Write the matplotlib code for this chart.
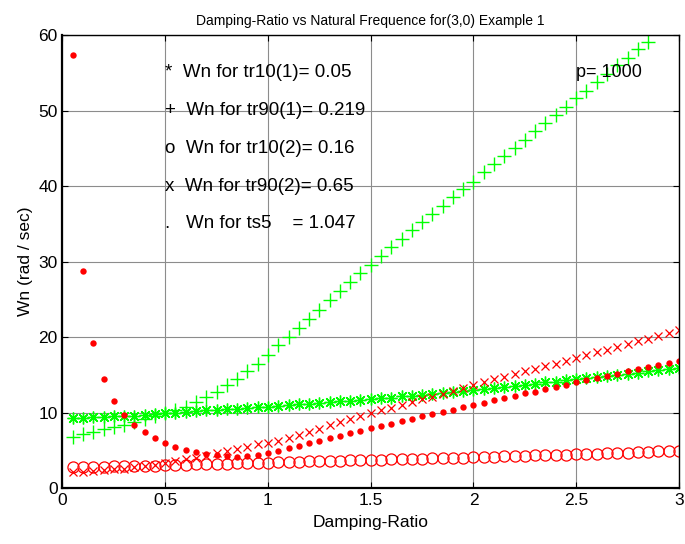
import numpy as np
import matplotlib
matplotlib.use('Agg')
import matplotlib.pyplot as plt

plt.rcParams['font.family'] = ['Liberation Sans', 'DejaVu Sans']

# damping ratio 0.05 .. 3 (step 0.05)
zeta = np.round(np.arange(1, 61) * 0.05, 2)

# '*'  Wn for tr10(1)
wn_tr10_1 = [9.3, 9.35, 9.4, 9.45, 9.5, 9.55, 9.6, 9.7, 9.8, 9.9,
             10.0, 10.1, 10.2, 10.3, 10.4, 10.45, 10.55, 10.6, 10.7, 10.8,
             10.9, 11.0, 11.1, 11.2, 11.3, 11.4, 11.5, 11.6, 11.7, 11.8,
             11.9, 12.0, 12.15, 12.25, 12.4, 12.5, 12.6, 12.75, 12.9, 13.0,
             13.15, 13.3, 13.4, 13.55, 13.7, 13.8, 14.0, 14.1, 14.3, 14.45,
             14.6, 14.7, 14.85, 15.0, 15.15, 15.3, 15.45, 15.6, 15.75, 15.9]

# '+'  Wn for tr90(1)  (leaves the plot after 2.85)
wn_tr90_1 = [6.8, 7.2, 7.5, 7.8, 8.1, 8.4, 8.7, 9.1, 9.5, 9.9,
             10.3, 10.8, 11.4, 12.1, 12.8, 13.6, 14.4, 15.5, 16.5, 17.7,
             18.9, 20.0, 21.2, 22.4, 23.6, 24.9, 26.1, 27.3, 28.5, 29.6,
             30.8, 31.9, 33.0, 34.2, 35.3, 36.3, 37.3, 38.5, 39.6, 40.6,
             41.9, 42.9, 44.0, 45.0, 46.1, 47.3, 48.3, 49.4, 50.5, 51.6,
             52.6, 53.8, 54.9, 56.0, 57.0, 58.1, 59.1]

# 'o'  Wn for tr10(2)
wn_tr10_2 = [2.80, 2.82, 2.84, 2.86, 2.88, 2.90, 2.93, 2.96, 3.00, 3.04,
             3.08, 3.11, 3.15, 3.18, 3.22, 3.25, 3.29, 3.32, 3.36, 3.40,
             3.43, 3.47, 3.50, 3.54, 3.57, 3.61, 3.64, 3.68, 3.71, 3.75,
             3.78, 3.82, 3.85, 3.89, 3.92, 3.96, 3.99, 4.03, 4.06, 4.10,
             4.14, 4.18, 4.22, 4.26, 4.30, 4.34, 4.38, 4.42, 4.46, 4.50,
             4.54, 4.59, 4.63, 4.68, 4.72, 4.77, 4.81, 4.86, 4.90, 4.95]

# 'x'  Wn for tr90(2)
wn_tr90_2 = [2.1, 2.2, 2.3, 2.4, 2.5, 2.6, 2.75, 2.9, 3.1, 3.3,
             3.55, 3.8, 4.05, 4.3, 4.6, 4.9, 5.25, 5.5, 5.8, 6.0,
             6.3, 6.7, 7.1, 7.5, 7.9, 8.3, 8.7, 9.1, 9.5, 9.9,
             10.3, 10.6, 11.0, 11.4, 11.8, 12.1, 12.5, 12.9, 13.2, 13.6,
             14.0, 14.4, 14.7, 15.1, 15.5, 15.8, 16.2, 16.5, 16.9, 17.2,
             17.6, 18.0, 18.3, 18.7, 19.1, 19.5, 19.8, 20.2, 20.5, 20.9]

# '.'  Wn for ts5
wn_ts5 = [57.3, 28.7, 19.2, 14.4, 11.6, 9.7, 8.4, 7.4, 6.6, 6.0,
          5.5, 5.1, 4.8, 4.55, 4.4, 4.25, 4.15, 4.2, 4.35, 4.6,
          4.95, 5.3, 5.6, 5.95, 6.3, 6.65, 6.95, 7.3, 7.6, 7.95,
          8.25, 8.55, 8.85, 9.2, 9.5, 9.8, 10.1, 10.4, 10.7, 11.0,
          11.3, 11.65, 11.95, 12.25, 12.55, 12.8, 13.1, 13.4, 13.7, 14.0,
          14.3, 14.55, 14.85, 15.15, 15.45, 15.75, 16.05, 16.3, 16.6, 16.9]

labels = ['*  Wn for tr10(1)= 0.05',
          '+  Wn for tr90(1)= 0.219',
          'o  Wn for tr10(2)= 0.16',
          'x  Wn for tr90(2)= 0.65',
          '.   Wn for ts5    = 1.047']
label_y = [55, 50, 45, 40, 35]

green = '#00ff00'
red = '#ff0000'

fig = plt.figure(figsize=(6.85, 5.44), dpi=100)
ax = fig.add_axes([0.0912, 0.1026, 0.9, 0.833])

ax.plot(zeta, wn_tr10_1, linestyle='none', marker=(8, 2, 0), ms=8.5,
        mec=green, mew=1.0)
ax.plot(zeta[:len(wn_tr90_1)], wn_tr90_1, linestyle='none', marker='+',
        ms=9.5, mec=green, mew=1.0)
ax.plot(zeta, wn_tr10_2, linestyle='none', marker='o', ms=8,
        mfc='none', mec=red, mew=0.9)
ax.plot(zeta, wn_tr90_2, linestyle='none', marker='x', ms=5.5,
        mec=red, mew=0.9)
ax.plot(zeta, wn_ts5, linestyle='none', marker='o', ms=4.6,
        mfc=red, mec=red, mew=0)

for s, y in zip(labels, label_y):
    ax.text(0.5, y, s, fontsize=13.5, va='center', ha='left')
ax.text(2.5, 55, 'p= 1000', fontsize=13, va='center', ha='left')

ax.set_xlim(0, 3)
ax.set_ylim(0, 60)
ax.set_xticks([0, 0.5, 1, 1.5, 2, 2.5, 3])
ax.set_xticklabels(['0', '0.5', '1', '1.5', '2', '2.5', '3'])
ax.set_yticks(range(0, 61, 10))
ax.grid(True, color='0.55', linewidth=0.8)
ax.set_axisbelow(True)
ax.tick_params(direction='in', top=True, right=True, labelsize=12.5, length=4)
for sp in ax.spines.values():
    sp.set_linewidth(1.0)
ax.spines['left'].set_linewidth(1.6)
ax.spines['bottom'].set_linewidth(1.6)

ax.set_title('Damping-Ratio vs Natural Frequence for(3,0) Example 1', fontsize=10, pad=7)
ax.set_xlabel('Damping-Ratio', fontsize=12.5, labelpad=5)
ax.set_ylabel('Wn (rad / sec)', fontsize=12.5, labelpad=4)

fig.savefig('out.png', dpi=100)
